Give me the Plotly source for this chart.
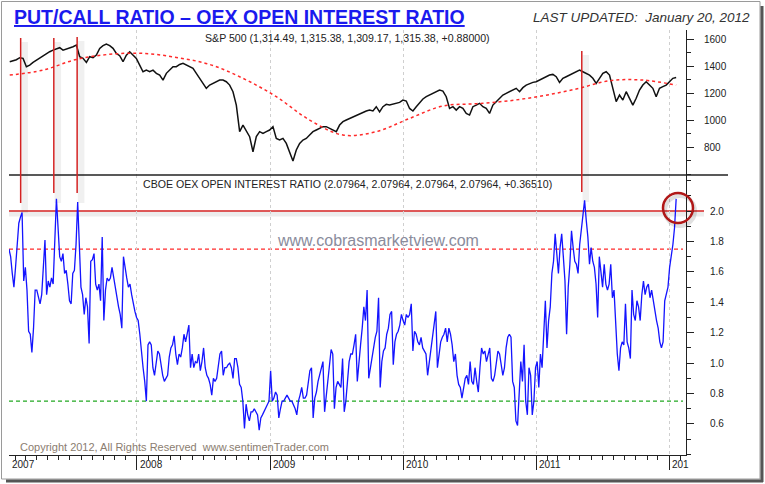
import pandas as pd
import plotly.graph_objects as go

# ---------------- data ----------------
spx = [
    1432, 1439, 1447, 1462, 1457, 1395, 1407, 1427, 1444, 1457,
    1477, 1494, 1506, 1518, 1526, 1536, 1518, 1526, 1536, 1543,
    1556, 1469, 1457, 1427, 1469, 1462, 1481, 1531, 1551, 1563,
    1551, 1531, 1494, 1477, 1432, 1481, 1506, 1481, 1457, 1407,
    1358, 1370, 1358, 1370, 1346, 1333, 1296, 1346, 1370, 1395,
    1395, 1412, 1420, 1407, 1395, 1383, 1346, 1309, 1272, 1235,
    1259, 1272, 1284, 1296, 1296, 1284, 1259, 1210, 1111, 914,
    963, 914, 877, 765, 877, 914, 901, 914, 926, 951,
    864, 852, 864, 827, 753, 696, 778, 827, 852, 864,
    889, 914, 926, 938, 951, 951, 938, 926, 914, 963,
    988, 1000, 1012, 1025, 1037, 1049, 1057, 1067, 1074, 1067,
    1099,
    1060, 1099, 1116, 1111, 1116, 1124, 1131, 1148, 1141, 1086,
    1067, 1099, 1124, 1156, 1173, 1185, 1198, 1210, 1222, 1215,
    1173, 1086, 1099, 1074, 1099, 1086, 1049, 1037, 1099, 1111,
    1124, 1099, 1086, 1049, 1111, 1136, 1161, 1185, 1198, 1210,
    1222, 1235, 1210, 1240, 1259, 1272, 1279, 1284, 1296, 1309,
    1321, 1333, 1338, 1321, 1279, 1309, 1321, 1333, 1346, 1358,
    1370, 1358, 1346, 1333, 1309, 1272, 1309, 1346, 1358, 1333,
    1235, 1136, 1185, 1148, 1210, 1161, 1111, 1161, 1222, 1259,
    1284, 1259, 1235, 1173, 1235, 1247, 1259, 1284, 1309, 1315,
]
spx_ma = [1333, 1370, 1449, 1487, 1494, 1464, 1412, 1309, 1173, 1000, 889,
          914, 1012, 1104, 1121, 1143, 1180, 1230, 1291, 1296, 1259]

ratio = [
    1.75, 1.70, 1.59, 1.50, 1.63, 1.78, 1.92, 1.96, 1.99, 1.54,
    1.63, 1.48, 1.21, 1.19, 1.07, 1.23, 1.48, 1.48, 1.43, 1.39,
    1.45, 1.67, 1.81, 1.45, 1.54, 1.50, 1.56, 1.52, 1.76, 2.08,
    1.89, 1.70, 1.67, 1.72, 1.59, 1.61, 1.52, 1.41, 1.39, 1.59,
    1.61, 1.78, 2.06, 1.72, 1.50, 1.45, 1.32, 1.43, 1.37, 1.13,
    1.67, 1.68, 1.72, 1.52, 1.48, 1.52, 1.41, 1.83, 1.28, 1.48,
    1.56, 1.54, 1.56, 1.63, 1.56, 1.48, 1.43, 1.37, 1.32, 1.23,
    1.70, 1.61, 1.56, 1.50, 1.52, 1.45, 1.39, 1.34, 1.30, 1.28,
    1.19, 1.06, 0.97, 0.88, 0.75, 1.12, 1.14, 1.12, 0.97, 0.92,
    1.01, 1.08, 1.06, 0.97, 0.92, 0.88, 0.90, 0.92, 1.04, 1.10,
    1.12, 1.18, 1.06, 0.99, 1.06, 1.04,
    1.10, 1.19, 1.14, 1.21, 1.25, 0.97, 1.06, 0.97, 1.01, 1.00,
    1.06, 0.95, 1.01, 1.10, 0.97, 0.92, 0.90, 0.86, 0.79, 0.90,
    0.88, 0.90, 0.97, 1.06, 1.08, 0.92, 0.97, 0.97, 0.99, 1.00,
    0.97, 0.90, 1.03, 1.03, 0.97, 0.86, 0.84, 0.75, 0.57, 0.73,
    0.66, 0.62, 0.68, 0.68, 0.70, 0.68, 0.66, 0.56, 0.64, 0.66,
    0.68, 0.70, 0.73, 0.75, 0.95, 0.75, 0.77, 0.81, 0.79, 0.64,
    0.70, 0.75, 0.75, 0.77, 0.79, 0.77, 0.75, 0.75, 0.73, 0.70,
    0.66, 0.75, 0.79, 0.84, 0.77, 0.77, 0.79, 0.86, 0.95, 0.97,
    0.64, 0.77, 0.81, 0.88, 0.92, 0.97, 1.01, 0.68, 0.79, 0.88,
    0.97, 1.09, 1.06, 0.70, 0.84, 0.88, 0.86, 0.84, 1.03, 0.68,
    0.75, 0.88, 1.01, 1.06,
    1.06, 1.12, 1.19, 0.88, 1.03, 1.12, 1.23, 1.37, 1.28, 1.48,
    0.90, 0.97, 1.01, 1.10, 1.17, 1.21, 1.43, 0.84, 1.01, 1.08,
    1.10, 1.19, 1.23, 1.32, 1.34, 0.99, 1.14, 1.19, 1.21, 1.25,
    1.32, 1.28, 1.25, 1.32, 1.30, 1.32, 1.39, 1.08, 1.21, 1.19,
    1.14, 1.12, 1.17, 1.10, 1.08, 1.06, 0.92, 1.01, 1.06, 1.17,
    1.28, 1.34, 0.97, 1.06, 1.14, 1.17, 1.19, 1.23, 1.14, 1.23,
    1.19, 1.12, 1.01, 1.06, 0.92, 0.86, 0.84, 0.77, 0.84, 0.90,
    0.92, 0.86, 1.01, 0.88, 0.86, 0.97, 0.88, 0.81, 0.97, 1.10,
    1.06, 1.08, 1.01, 1.06, 1.10, 0.90, 0.88, 0.92, 1.01, 1.08,
    1.06, 0.99, 0.92, 0.97, 1.10, 1.17, 1.19, 1.17, 0.88, 0.84,
    0.62, 0.59, 0.84, 1.01,
    0.88, 1.12, 0.75, 0.66, 0.97, 0.92, 0.66, 0.75, 0.97, 1.01,
    0.84, 1.06, 0.97, 1.23, 1.41, 1.10, 1.28, 1.37, 1.59, 1.67,
    1.85, 1.72, 1.59, 1.76, 1.85, 1.70, 1.54, 1.19, 1.50, 1.65,
    1.87, 1.76, 1.67, 1.65, 1.59, 1.78, 1.87, 1.96, 2.07, 1.94,
    1.83, 1.65, 1.76, 1.67, 1.63, 1.52, 1.30, 1.70, 1.59, 1.50,
    1.65, 1.52, 1.48, 1.52, 1.65, 1.43, 1.48, 1.23, 1.06, 0.95,
    1.10, 1.14, 1.12, 1.39, 1.14, 1.10, 1.03, 1.48, 1.32, 1.28,
    1.41, 1.37, 1.28, 1.45, 1.54, 1.45, 1.50, 1.52, 1.43, 1.48,
    1.41, 1.32, 1.28, 1.23, 1.14, 1.10, 1.14, 1.41, 1.45, 1.50,
    1.63, 1.70, 1.78, 1.89, 2.08,
]

signal_dates = ["2007-02-16", "2007-05-18", "2007-07-21", "2011-05-06"]
year_ticks = ["2007-01-15", "2008-01-01", "2009-01-01", "2010-01-01", "2011-01-01", "2012-01-01"]
year_labels = ["2007", "2008", "2009", "2010", "2011", "201"]
spx_ticks = [800, 1000, 1200, 1400, 1600]
ratio_ticks = [0.6, 0.8, 1.0, 1.2, 1.4, 1.6, 1.8, 2.0]
ratio_upper, ratio_lower, ratio_extreme = 1.75, 0.75, 2.0

spx_dates = pd.date_range("2007-01-17", "2012-01-20", periods=len(spx))
ma_dates = pd.date_range("2007-01-17", "2012-01-20", periods=len(spx_ma))
ratio_dates = pd.date_range("2007-01-15", "2012-01-20", periods=len(ratio))

# ---------------- geometry helpers (pixel -> paper) ----------------
W, H = 765, 484
L, R, T, B = 9, 686, 30, 455


def px(x):
    return (x - L) / (R - L)


def py(y):
    return (B - y) / (B - T)


SPLIT = py(175)
FONT = "Liberation Sans, Arial, sans-serif"

fig = go.Figure()
fig.add_trace(go.Scatter(x=spx_dates, y=spx, mode="lines",
                         line=dict(color="#111111", width=1.5),
                         xaxis="x2", yaxis="y2", hoverinfo="skip"))
fig.add_trace(go.Scatter(x=ma_dates, y=spx_ma, mode="lines",
                         line=dict(color="#ff2a2a", width=1.5, dash="3px,3px", shape="spline"),
                         xaxis="x2", yaxis="y2", hoverinfo="skip"))
fig.add_trace(go.Scatter(x=ratio_dates, y=ratio, mode="lines",
                         line=dict(color="#1414ff", width=1.3),
                         xaxis="x", yaxis="y", hoverinfo="skip"))

grid = dict(showgrid=True, gridcolor="#cfcfcf", griddash="dot", gridwidth=1)

shapes = []
# frame + drop shadow
shapes.append(dict(type="rect", xref="paper", yref="paper", x0=px(1.5), x1=px(760), y0=py(479), y1=py(1.5),
                   line=dict(color="#9a9a9a", width=1), layer="below"))
shapes.append(dict(type="line", xref="paper", yref="paper", x0=px(762), x1=px(762), y0=py(482), y1=py(6),
                   line=dict(color="#555555", width=3)))
shapes.append(dict(type="line", xref="paper", yref="paper", x0=px(6), x1=px(763), y0=py(481), y1=py(481),
                   line=dict(color="#555555", width=3)))
# separator
shapes.append(dict(type="line", xref="paper", yref="paper", x0=0, x1=px(728), y0=SPLIT, y1=SPLIT,
                   line=dict(color="#222222", width=1.5)))
# ratio reference lines
shapes.append(dict(type="line", xref="paper", yref="y", x0=0, x1=px(683), y0=ratio_upper, y1=ratio_upper,
                   line=dict(color="#ff2a2a", width=1.3, dash="4px,3px"), layer="below"))
shapes.append(dict(type="line", xref="paper", yref="y", x0=0, x1=px(683), y0=ratio_lower, y1=ratio_lower,
                   line=dict(color="#22a822", width=1.3, dash="4px,3px"), layer="below"))
shapes.append(dict(type="line", xref="paper", yref="paper", x0=0, x1=px(704), y0=py(214), y1=py(214),
                   line=dict(color="rgba(0,0,0,0.07)", width=5), layer="below"))
shapes.append(dict(type="line", xref="paper", yref="y", x0=0, x1=px(704), y0=ratio_extreme, y1=ratio_extreme,
                   line=dict(color="#d42222", width=1.6), layer="below"))
# signal lines
tops = [38, 38, 37, 51]
bottoms = [203, 193, 193, 192]
for d, t, b in zip(signal_dates, tops, bottoms):
    dd = pd.Timestamp(d)
    shapes.append(dict(type="rect", xref="x", yref="paper", x0=dd + pd.Timedelta(days=2),
                       x1=dd + pd.Timedelta(days=20), y0=py(b + 10), y1=py(t + 4),
                       fillcolor="rgba(0,0,0,0.06)", line=dict(width=0), layer="below"))
    shapes.append(dict(type="line", xref="x", yref="paper", x0=dd, x1=dd, y0=py(b), y1=py(t),
                       line=dict(color="#d42222", width=1.5)))
# circle
shapes.append(dict(type="circle", xref="paper", yref="paper", x0=px(665), x1=px(695), y0=py(226), y1=py(196),
                   line=dict(color="rgba(0,0,0,0.12)", width=4)))
shapes.append(dict(type="circle", xref="paper", yref="paper", x0=px(663), x1=px(693), y0=py(223), y1=py(193),
                   line=dict(color="#b01818", width=2.5)))

annotations = []
annotations.append(dict(xref="paper", yref="paper", x=px(12), y=py(17), xanchor="left", yanchor="middle",
                        text="<b><u>PUT/CALL RATIO – OEX OPEN INTEREST RATIO</u></b>", showarrow=False,
                        font=dict(family=FONT, size=19.5, color="#1a1aee")))
annotations.append(dict(xref="paper", yref="paper", x=px(752), y=py(17), xanchor="right", yanchor="middle",
                        text="<i>LAST UPDATED:&nbsp; January 20, 2012</i>", showarrow=False,
                        font=dict(family=FONT, size=13.5, color="#333333")))
annotations.append(dict(xref="paper", yref="paper", x=px(347), y=py(38), xanchor="center", yanchor="middle",
                        text="S&P 500 (1,314.49, 1,315.38, 1,309.17, 1,315.38, +0.88000)", showarrow=False,
                        font=dict(family=FONT, size=10.6, color="#222222")))
annotations.append(dict(xref="paper", yref="paper", x=px(347), y=py(184), xanchor="center", yanchor="middle",
                        text="CBOE OEX OPEN INTEREST RATIO (2.07964, 2.07964, 2.07964, 2.07964, +0.36510)",
                        showarrow=False, font=dict(family=FONT, size=10.6, color="#222222")))
annotations.append(dict(xref="paper", yref="paper", x=px(378), y=py(240), xanchor="center", yanchor="middle",
                        text="www.cobrasmarketview.com", showarrow=False,
                        font=dict(family=FONT, size=16, color="#8a8c9c")))
annotations.append(dict(xref="paper", yref="paper", x=px(18), y=py(447), xanchor="left", yanchor="middle",
                        text="Copyright 2012, All Rights Reserved&nbsp; www.sentimenTrader.com", showarrow=False,
                        font=dict(family=FONT, size=11, color="#8b7d70")))
for d, lab in zip(year_ticks, year_labels):
    annotations.append(dict(xref="x", yref="paper", x=d, y=py(464), xanchor="left", yanchor="middle",
                            xshift=1, text=lab, showarrow=False,
                            font=dict(family=FONT, size=10, color="#222222")))

fig.update_layout(
    width=W, height=H,
    margin=dict(l=L, r=W - R, t=T, b=H - B),
    paper_bgcolor="white", plot_bgcolor="white",
    showlegend=False,
    font=dict(family=FONT, size=10, color="#222222"),
    shapes=shapes, annotations=annotations,
    xaxis=dict(domain=[0, 1], anchor="y", type="date", range=["2007-01-15", "2012-02-16"],
               tickmode="linear", tick0="2007-01-01", dtick="M12", ticks="outside", ticklen=14,
               tickcolor="#222222", showticklabels=False, showline=True, linecolor="#222222",
               linewidth=1, zeroline=False,
               minor=dict(dtick="M1", tick0="2007-01-01", ticks="outside", ticklen=4,
                          tickcolor="#222222", showgrid=False), **grid),
    xaxis2=dict(domain=[0, 1], anchor="y2", type="date", matches="x", showticklabels=False, ticks="",
                showline=False, zeroline=False, **grid),
    yaxis=dict(domain=[0, SPLIT], anchor="x", side="right", range=[0.396, 2.237],
               tickvals=ratio_ticks, ticktext=[f"{v:.1f}" for v in ratio_ticks],
               ticks="outside", ticklen=7, tickcolor="#222222", showline=True, linecolor="#222222",
               linewidth=1, showgrid=False, zeroline=False, ticklabelstandoff=14,
               tickfont=dict(size=10, color="#222222"),
               minor=dict(dtick=0.1, tick0=0, ticks="outside", ticklen=4, tickcolor="#222222")),
    yaxis2=dict(domain=[SPLIT, 1], anchor="x2", side="right", range=[593, 1667],
                tickvals=spx_ticks, ticktext=[str(v) for v in spx_ticks],
                ticks="outside", ticklen=7, tickcolor="#222222", showline=True, linecolor="#222222",
                linewidth=1, showgrid=False, zeroline=False, ticklabelstandoff=8,
                tickfont=dict(size=10, color="#222222"),
                minor=dict(dtick=100, tick0=0, ticks="outside", ticklen=4, tickcolor="#222222")),
)

fig.write_html("out.html")
